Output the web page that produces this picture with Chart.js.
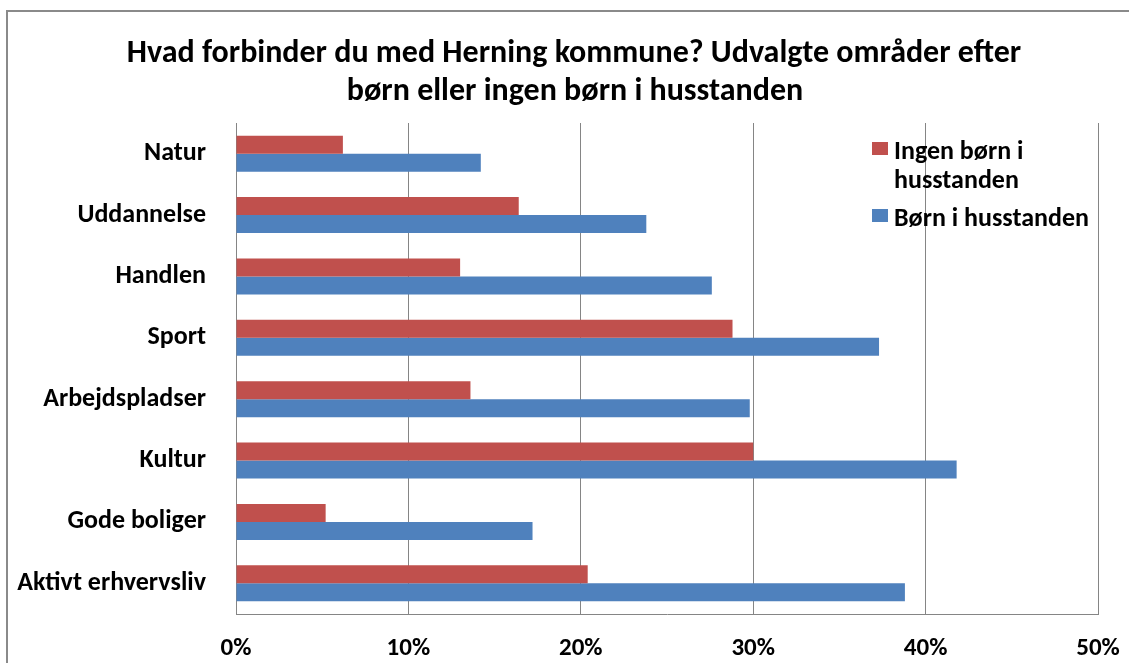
<!DOCTYPE html>
<html>
<head>
<meta charset="utf-8">
<script src="https://cdn.jsdelivr.net/npm/chart.js@4"></script>
<style>
  html, body { margin: 0; padding: 0; background: #fff; }
  #wrap { position: relative; width: 1129px; height: 663px; overflow: hidden; }
  #frame { position: absolute; left: 6px; top: 10px; width: 1200px; height: 700px; border: 2px solid #8a8a8a; box-sizing: border-box; }
  canvas { position: absolute; left: 0; top: 0; }
</style>
</head>
<body>
<div id="wrap">
  <div id="frame"></div>
  <canvas id="c" width="1129" height="663"></canvas>
</div>
<script>
const titleLines = ["Hvad forbinder du med Herning kommune? Udvalgte områder efter", "børn eller ingen børn i husstanden"];
const categories = ["Natur", "Uddannelse", "Handlen", "Sport", "Arbejdspladser", "Kultur", "Gode boliger", "Aktivt erhvervsliv"];
const seriesNames = ["Ingen børn i husstanden", "Børn i husstanden"];
const ingenBoern = [6.2, 16.4, 13.0, 28.8, 13.6, 30.0, 5.2, 20.4];
const boern = [14.2, 23.8, 27.6, 37.3, 29.8, 41.8, 17.2, 38.8];
const xTicks = [0, 10, 20, 30, 40, 50];

const FONT = "Carlito, Lato, 'Liberation Sans', sans-serif";

const titlePlugin = {
  id: 'customTitle',
  afterDraw(chart) {
    const ctx = chart.ctx;
    ctx.save();
    ctx.fillStyle = '#000';
    ctx.font = "bold 32px " + FONT;
    ctx.textAlign = 'center';
    ctx.textBaseline = 'alphabetic';
    ctx.fillText(titleLines[0], 574, 62);
    ctx.fillText(titleLines[1], 575, 100);
    ctx.restore();
  }
};

const legendPlugin = {
  id: 'customLegend',
  afterDraw(chart) {
    const ctx = chart.ctx;
    ctx.save();
    ctx.font = "bold 26px " + FONT;
    ctx.textBaseline = 'alphabetic';
    ctx.textAlign = 'left';
    const x0 = 872, tx = 894, maxW = 205, lh = 29;
    const baselines = [159, 226];
    chart.data.datasets.forEach((ds, k) => {
      const words = ds.label.split(' ');
      const lines = [];
      let cur = '';
      words.forEach(w => {
        const t = cur ? cur + ' ' + w : w;
        if (ctx.measureText(t).width > maxW && cur) { lines.push(cur); cur = w; }
        else cur = t;
      });
      if (cur) lines.push(cur);
      const y = baselines[k];
      ctx.fillStyle = ds.backgroundColor;
      ctx.fillRect(x0, y - 17, 16, 13);
      ctx.fillStyle = '#000';
      lines.forEach((l, i) => ctx.fillText(l, tx, y + i * lh));
    });
    ctx.restore();
  }
};

new Chart(document.getElementById('c'), {
  type: 'bar',
  data: {
    labels: categories,
    datasets: [
      { label: seriesNames[0], data: ingenBoern, backgroundColor: '#C0504D', borderWidth: 0,
        categoryPercentage: 0.586, barPercentage: 1.0 },
      { label: seriesNames[1], data: boern, backgroundColor: '#4F81BD', borderWidth: 0,
        categoryPercentage: 0.586, barPercentage: 1.0 }
    ]
  },
  options: {
    responsive: false,
    animation: false,
    indexAxis: 'y',
    layout: { padding: { top: 123, right: 31, bottom: 0, left: 0 } },
    plugins: { legend: { display: false }, title: { display: false }, tooltip: { enabled: false } },
    scales: {
      x: {
        min: 0, max: 50,
        afterFit(scale) { scale.height = 49; scale.paddingLeft = 0; scale.paddingRight = 0; },
        afterBuildTicks(scale) { scale.ticks = xTicks.map(v => ({ value: v })); },
        grid: { color: '#858585', lineWidth: 1, drawTicks: false },
        border: { color: '#858585', width: 1 },
        ticks: { color: '#000', padding: 20, font: { family: FONT, size: 25, weight: 'bold' },
                 callback: v => v + '%' }
      },
      y: {
        afterFit(scale) { scale.width = 236; },
        grid: { display: false, drawTicks: false },
        border: { color: '#858585', width: 1 },
        ticks: { color: '#000', padding: 30, font: { family: FONT, size: 26, weight: 'bold' } }
      }
    }
  },
  plugins: [titlePlugin, legendPlugin]
});
</script>
</body>
</html>
